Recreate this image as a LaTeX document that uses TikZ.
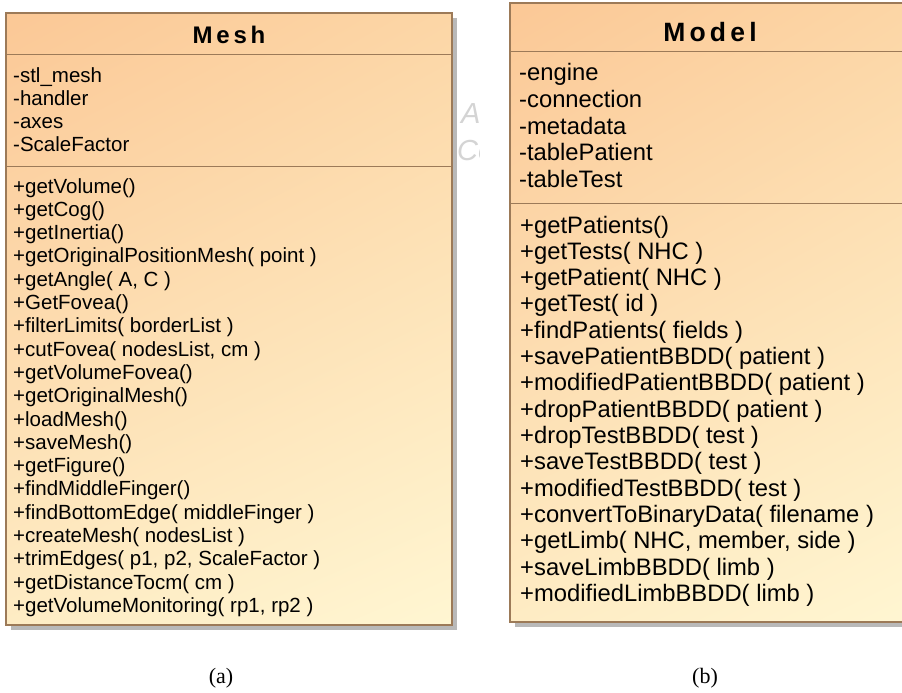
\documentclass[tikz,border=0pt]{standalone}
\usepackage{fontspec}
\usetikzlibrary{shadings}
\newfontfamily\umlfont{Liberation Sans}
\newfontfamily\umlbold[LetterSpace=16]{Liberation Sans Bold}
\newfontfamily\capfont{Liberation Serif}
\definecolor{boxTL}{HTML}{FBC896}
\definecolor{boxTR}{HTML}{FCD6A6}
\definecolor{boxBL}{HTML}{FEECC4}
\definecolor{boxBR}{HTML}{FFF6D2}
\definecolor{boxEdge}{HTML}{9C7A58}
\definecolor{shadowGray}{HTML}{A8A8A8}
\definecolor{markGray}{HTML}{D4D4D4}
\tikzset{
  x=1pt, y=-1pt,
  classfill/.style={upper left=boxTL, upper right=boxTR, lower left=boxBL, lower right=boxBR},
  classedge/.style={draw=boxEdge, line width=1.1pt},
  divider/.style={draw=boxEdge, line width=1pt},
  shadowbox/.style={fill=shadowGray, opacity=0.8},
  titlemesh/.style={font=\umlbold\fontsize{24}{28}\selectfont, inner sep=0pt},
  titlemodel/.style={font=\umlbold\fontsize{26.5}{30}\selectfont, inner sep=0pt},
  meshline/.style={font=\umlfont\fontsize{20.5}{23}\selectfont, anchor=base west, inner sep=0pt},
  modelline/.style={font=\umlfont\fontsize{23.8}{27}\selectfont, anchor=base west, inner sep=0pt},
  faintmark/.style={font=\umlfont\itshape\fontsize{29}{32}\selectfont, text=markGray, anchor=base west, inner sep=0pt},
  subcaption/.style={font=\capfont\fontsize{22}{25}\selectfont, inner sep=0pt},
}
\begin{document}
\begin{tikzpicture}
\useasboundingbox (0,0) rectangle (902,693);
\clip (0,0) rectangle (902,693);
\fill[white] (0,0) rectangle (902,693);

% faint letters peeking out between the two classes
\begin{scope}
  \clip (455,60) rectangle (479,180);
  \node[faintmark] (markA) at (461,123) {A};
  \node[faintmark] (markC) at (457,160) {Co};
\end{scope}

% ---------------- class Mesh ----------------
\fill[shadowbox] (11,18) rectangle (457,630);
\shade[classfill] (6,13) rectangle (452,625);
\draw[classedge] (6,13) rectangle (452,625);
\draw[divider] (6,55) -- (452,55);
\draw[divider] (6,166) -- (452,166);
\node[titlemesh] (meshtitle) at (229,35) {Mesh};

\foreach \t [count=\i from 0] in {-stl\_mesh,-handler,-axes,-ScaleFactor}
  \node[meshline] (meshattr\i) at (13,82+23*\i) {\t};

\foreach \t [count=\i from 0] in {
  +getVolume(),+getCog(),+getInertia(),+getOriginalPositionMesh( point ),
  {+getAngle( A, C )},+GetFovea(),+filterLimits( borderList ),
  {+cutFovea( nodesList, cm )},+getVolumeFovea(),+getOriginalMesh(),
  +loadMesh(),+saveMesh(),+getFigure(),+findMiddleFinger(),
  +findBottomEdge( middleFinger ),+createMesh( nodesList ),
  {+trimEdges( p1, p2, ScaleFactor )},+getDistanceTocm( cm ),
  {+getVolumeMonitoring( rp1, rp2 )}}
  \node[meshline] (meshop\i) at (13,193+23.3*\i) {\t};

% ---------------- class Model ----------------
\fill[shadowbox] (515,8) rectangle (920,627);
\shade[classfill] (510,3) rectangle (915,622);
\draw[classedge] (510,3) rectangle (915,622);
\draw[divider] (510,52) -- (915,52);
\draw[divider] (510,203) -- (915,203);
\node[titlemodel] (modeltitle) at (710,32) {Model};

\foreach \t [count=\i from 0] in {-engine,-connection,-metadata,-tablePatient,-tableTest}
  \node[modelline] (modelattr\i) at (519,81+26.5*\i) {\t};

\foreach \t [count=\i from 0] in {
  +getPatients(),+getTests( NHC ),+getPatient( NHC ),+getTest( id ),
  +findPatients( fields ),+savePatientBBDD( patient ),
  +modifiedPatientBBDD( patient ),+dropPatientBBDD( patient ),
  +dropTestBBDD( test ),+saveTestBBDD( test ),+modifiedTestBBDD( test ),
  +convertToBinaryData( filename ),{+getLimb( NHC, member, side )},
  +saveLimbBBDD( limb ),+modifiedLimbBBDD( limb )}
  \node[modelline] (modelop\i) at (520,233+26.33*\i) {\t};

% ---------------- sub-captions ----------------
\node[subcaption] (capa) at (221,678) {(a)};
\node[subcaption] (capb) at (705,678) {(b)};
\end{tikzpicture}
\end{document}
